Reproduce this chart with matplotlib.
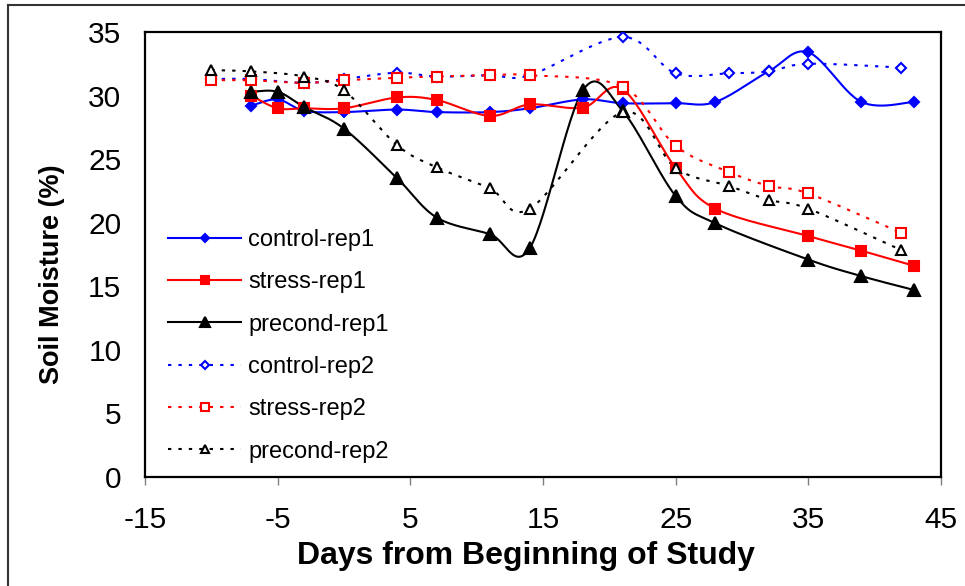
import numpy as np
import matplotlib
matplotlib.use("Agg")
import matplotlib.pyplot as plt
from matplotlib.lines import Line2D

plt.rcParams['font.family'] = ['Liberation Sans', 'DejaVu Sans']
plt.rcParams['axes.unicode_minus'] = False

# ---- data ----
x_rep1 = [-7, -5, -3, 0, 4, 7, 11, 14, 18, 21, 25, 28, 32, 35, 39, 43]
control_rep1 = [29.2, 29.7, 28.8, 28.7, 28.9, 28.7, 28.7, 29.0, 29.7, 29.4, 29.4, 29.5, 31.9, 33.4, 29.5, 29.5]

x_rep1b = [-7, -5, -3, 0, 4, 7, 11, 14, 18, 21, 25, 28, 35, 39, 43]
stress_rep1 = [30.0, 29.0, 29.0, 29.0, 29.85, 29.65, 28.4, 29.3, 29.05, 30.5, 24.3, 21.1, 18.95, 17.8, 16.6]
precond_rep1 = [30.3, 30.3, 29.1, 27.4, 23.5, 20.4, 19.1, 18.0, 30.4, 28.8, 22.1, 19.95, 17.1, 15.8, 14.7]

x_rep2 = [-10, -7, -3, 0, 4, 7, 11, 14, 21, 25, 29, 32, 35, 42]
control_rep2 = [31.3, 31.3, 31.0, 31.3, 31.8, 31.5, 31.6, 31.6, 34.6, 31.75, 31.75, 31.9, 32.5, 32.2]
stress_rep2 = [31.2, 31.2, 31.0, 31.2, 31.4, 31.5, 31.6, 31.6, 30.7, 26.05, 24.0, 22.9, 22.3, 19.2]
precond_rep2 = [32.0, 31.9, 31.5, 30.4, 26.1, 24.35, 22.7, 21.1, 28.7, 24.3, 22.9, 21.8, 21.1, 17.85]

labels = ['control-rep1', 'stress-rep1', 'precond-rep1',
          'control-rep2', 'stress-rep2', 'precond-rep2']
xticks = [-15, -5, 5, 15, 25, 35, 45]
yticks = [0, 5, 10, 15, 20, 25, 30, 35]


def smooth(xs, ys, n=30):
    """Excel-like smoothed line (Catmull-Rom as cubic Bezier)."""
    P = np.column_stack([xs, ys]).astype(float)
    out = [P[0]]
    t = np.linspace(0, 1, n)[1:, None]
    for i in range(len(P) - 1):
        p0 = P[i - 1] if i > 0 else P[i]
        p1, p2 = P[i], P[i + 1]
        p3 = P[i + 2] if i + 2 < len(P) else P[i + 1]
        c1 = p1 + (p2 - p0) / 6.0
        c2 = p2 - (p3 - p1) / 6.0
        seg = ((1 - t) ** 3) * p1 + 3 * ((1 - t) ** 2) * t * c1 + 3 * (1 - t) * t ** 2 * c2 + t ** 3 * p2
        out.extend(seg)
    out = np.array(out)
    return out[:, 0], out[:, 1]


W, H = 965, 586
fig = plt.figure(figsize=(W / 100, H / 100), dpi=100)
ax = fig.add_axes([145 / W, 1 - 477 / H, (941 - 145) / W, (477 - 32) / H])

dot = (0, (1.6, 3.4))
series = [
    (x_rep1, control_rep1, dict(color='#0000FF', ls='-', marker='D', ms=5.5, mfc='#0000FF')),
    (x_rep1b, stress_rep1, dict(color='#FF0000', ls='-', marker='s', ms=7.5, mfc='#FF0000')),
    (x_rep1b, precond_rep1, dict(color='#000000', ls='-', marker='^', ms=8.5, mfc='#000000')),
    (x_rep2, control_rep2, dict(color='#0000FF', ls=dot, marker='D', ms=5.0, mfc='white')),
    (x_rep2, stress_rep2, dict(color='#FF0000', ls=dot, marker='s', ms=6.5, mfc='white')),
    (x_rep2, precond_rep2, dict(color='#000000', ls=dot, marker='^', ms=7.5, mfc='white')),
]

handles = []
for k, (xs, ys, st) in enumerate(series):
    sx, sy = smooth(xs, ys)
    ax.plot(sx, sy, color=st['color'], ls=st['ls'], lw=1.5, zorder=2 + k * 0.1,
            solid_capstyle='butt', dash_capstyle='butt')
for k, (xs, ys, st) in enumerate(series):
    ax.plot(xs, ys, ls='none', marker=st['marker'], ms=st['ms'], mfc=st['mfc'],
            mec=st['color'], mew=1.5, zorder=3 + k * 0.1)
    handles.append(Line2D([], [], color=st['color'], ls=st['ls'], lw=1.5,
                          marker=st['marker'], ms=st['ms'] * 0.8, mfc=st['mfc'],
                          mec=st['color'], mew=1.5, dash_capstyle='butt'))

ax.set_xlim(-15, 45)
ax.set_ylim(0, 35)
ax.set_xticks(xticks)
ax.set_xticklabels([str(v) for v in xticks])
ax.set_yticks(yticks)
ax.set_yticklabels([str(v) for v in yticks])
for sp in ax.spines.values():
    sp.set_linewidth(1.6)
    sp.set_color('black')
ax.tick_params(axis='x', length=6, width=1, color='#808080', direction='out', pad=15, labelsize=21.5)
ax.tick_params(axis='y', length=0, pad=17, labelsize=21.5)

fig.text(526 / W, 1 - 556 / H, 'Days from Beginning of Study', ha='center', va='center',
         fontsize=23, fontweight='bold')
fig.text(52 / W, 1 - 274 / H, 'Soil Moisture (%)', ha='center', va='center',
         rotation=90, fontsize=19.5, fontweight='bold')

fig.legend(handles, labels, loc='upper left', bbox_to_anchor=(168 / W, 1 - 229 / H),
           frameon=False, fontsize=17, handlelength=3.1, handletextpad=0.3,
           labelspacing=0.86, borderpad=0, borderaxespad=0)

# chart-area border (top and left visible)
fig.add_artist(Line2D([8 / W, 8 / W], [0, 1 - 5 / H], color='#333333', lw=1.5,
                      transform=fig.transFigure))
fig.add_artist(Line2D([8 / W, 1], [1 - 5 / H, 1 - 5 / H], color='#333333', lw=1.5,
                      transform=fig.transFigure))

fig.savefig('out.png', dpi=100)
